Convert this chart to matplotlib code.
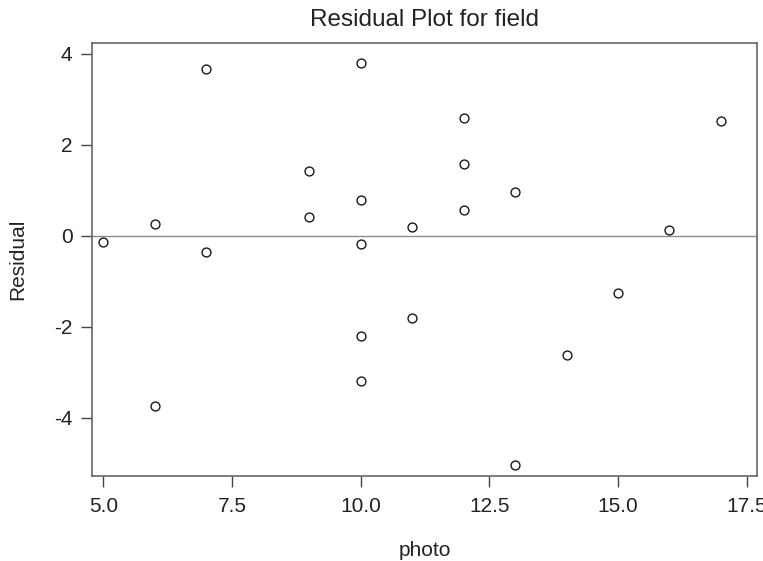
import matplotlib
matplotlib.use("Agg")
import matplotlib.pyplot as plt

plt.rcParams['font.family'] = ['Liberation Sans', 'DejaVu Sans']
plt.rcParams['axes.unicode_minus'] = False

photo = [5, 6, 6, 7, 7, 9, 9, 10, 10, 10, 10, 10, 11, 11, 12, 12, 12, 13, 13, 14, 15, 16, 17]
residual = [-0.13, 0.27, -3.75, 3.66, -0.36, 1.42, 0.42, 3.81, 0.79, -0.19, -2.21, -3.20,
            0.19, -1.80, 2.59, 1.57, 0.57, 0.97, -5.04, -2.63, -1.25, 0.13, 2.53]
x_ticks = [5.0, 7.5, 10.0, 12.5, 15.0, 17.5]
y_ticks = [-4, -2, 0, 2, 4]

fig = plt.figure(figsize=(7.63, 5.61), dpi=100)
ax = fig.add_axes([0.1206, 0.1515, 0.8715, 0.7719])

ax.axhline(0, color='#8c8c8c', lw=1.0, zorder=1)
ax.plot(photo, residual, linestyle='none', marker='o', markersize=6.4,
        markerfacecolor='none', markeredgecolor='#1a1a1a', markeredgewidth=1.0, zorder=3)

ax.set_xlim(4.78, 17.70)
ax.set_ylim(-5.28, 4.24)
ax.set_xticks(x_ticks)
ax.set_xticklabels([f"{v:.1f}" for v in x_ticks])
ax.set_yticks(y_ticks)
ax.set_yticklabels([str(v) for v in y_ticks])

for s in ax.spines.values():
    s.set_color('#666666')
    s.set_linewidth(1.2)
ax.tick_params(axis='both', direction='out', length=8, width=1.0, color='#444444',
               labelsize=15, labelcolor='#222222')
ax.tick_params(axis='x', pad=7)
ax.tick_params(axis='y', pad=6)

ax.set_title('Residual Plot for field', fontsize=17.5, color='#222222', pad=12)
ax.set_xlabel('photo', fontsize=15, color='#222222', labelpad=18)
ax.set_ylabel('Residual', fontsize=15, color='#222222', labelpad=19)

fig.savefig('out.png', dpi=100, facecolor='white')
